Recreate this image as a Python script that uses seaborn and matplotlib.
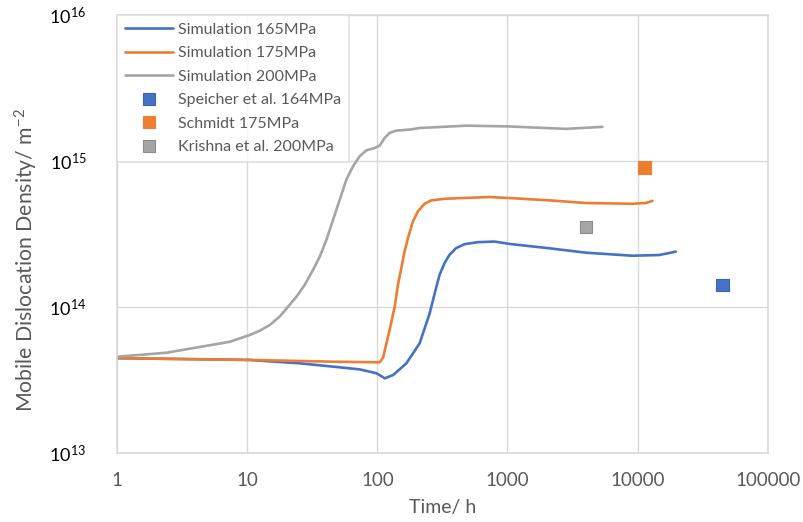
import numpy as np
import pandas as pd
import matplotlib
matplotlib.use("Agg")
import matplotlib.pyplot as plt
import seaborn as sns
from matplotlib.ticker import FixedLocator, FixedFormatter, NullLocator

# ---------------- data ----------------
t_200 = [1, 2.404, 4.335, 7.362, 8.790, 10.50, 12.50, 14.93, 17.82, 20.61, 23.93, 27.67, 32.06, 36.14,
         40.64, 45.71, 51.40, 57.81, 65.01, 73.11, 82.41, 95.50, 104.2, 113.8, 124.2, 140.0, 177.0,
         210.9, 482.0, 1005, 2812, 5370]
rho_200 = [4.54e13, 4.84e13, 5.30e13, 5.75e13, 6.07e13, 6.40e13, 6.85e13, 7.50e13, 8.57e13, 1.000e14,
           1.172e14, 1.409e14, 1.786e14, 2.203e14, 2.871e14, 3.936e14, 5.395e14, 7.413e14, 9.141e14,
           1.072e15, 1.178e15, 1.222e15, 1.268e15, 1.432e15, 1.549e15, 1.607e15, 1.633e15,
           1.675e15, 1.738e15, 1.718e15, 1.652e15, 1.706e15]

t_175 = [1, 3.162, 10.23, 45.08, 104.2, 110.7, 124.5, 136.1, 143.9, 152.8, 161.8, 171.8, 187.5, 204.6,
         230.7, 259.4, 328.1, 440.6, 726.1, 1035, 2099, 4009, 9120, 11560, 13000]
rho_175 = [4.44e13, 4.38e13, 4.32e13, 4.20e13, 4.16e13, 4.48e13, 6.97e13, 1.002e14, 1.409e14, 1.837e14,
           2.382e14, 2.944e14, 3.828e14, 4.487e14, 5.070e14, 5.346e14, 5.483e14, 5.546e14, 5.64e14,
           5.55e14, 5.35e14, 5.13e14, 5.07e14, 5.13e14, 5.31e14]

t_165 = [1, 3.162, 10.23, 25.70, 61.66, 73.28, 98.4, 104.7, 114.0, 132.1, 167.1, 211.3, 252.3, 283.1,
         300.6, 328.1, 358.1, 402.7, 466.7, 590.2, 794.3, 1035, 2099, 4009, 9120, 14620, 19630]
rho_165 = [4.44e13, 4.38e13, 4.32e13, 4.09e13, 3.78e13, 3.72e13, 3.50e13, 3.39e13, 3.23e13, 3.40e13,
           4.09e13, 5.61e13, 8.99e13, 1.349e14, 1.652e14, 1.986e14, 2.265e14, 2.518e14, 2.679e14,
           2.767e14, 2.793e14, 2.692e14, 2.512e14, 2.344e14, 2.234e14, 2.259e14, 2.382e14]

sim_labels = ["Simulation 165MPa", "Simulation 175MPa", "Simulation 200MPa"]
exp_labels = ["Speicher et al. 164MPa", "Schmidt 175MPa", "Krishna et al. 200MPa"]
exp_time = [44800, 11300, 4030]
exp_rho = [1.41e14, 9.0e14, 3.5e14]

x_ticks = [1, 10, 100, 1000, 10000, 100000]
x_ticklabels = ["1", "10", "100", "1000", "10000", "100000"]
y_ticks = [1e13, 1e14, 1e15, 1e16]
y_ticklabels = [r"$10^{13}$", r"$10^{14}$", r"$10^{15}$", r"$10^{16}$"]

colors = ["#4472C4", "#ED7D31", "#A5A5A5"]
edge_colors = ["#3a64b0", "#ED7D31", "#8c8c8c"]

# ---------------- frames ----------------
sim_df = pd.concat([
    pd.DataFrame({"time": t_165, "rho": rho_165, "series": sim_labels[0]}),
    pd.DataFrame({"time": t_175, "rho": rho_175, "series": sim_labels[1]}),
    pd.DataFrame({"time": t_200, "rho": rho_200, "series": sim_labels[2]}),
], ignore_index=True)
exp_df = pd.DataFrame({"time": exp_time, "rho": exp_rho, "source": exp_labels})

# ---------------- plot ----------------
sns.set_theme(style="white")
plt.rcParams["font.family"] = ["Lato", "DejaVu Sans"]
plt.rcParams["mathtext.fontset"] = "custom"
plt.rcParams["mathtext.rm"] = "Lato"
plt.rcParams["mathtext.it"] = "Lato:italic"
plt.rcParams["mathtext.bf"] = "Lato:bold"

fig = plt.figure(figsize=(8.04, 5.22), dpi=100)
ax = fig.add_axes([0.1455, 0.1328, 0.8095, 0.839])

sns.lineplot(data=sim_df, x="time", y="rho", hue="series", hue_order=sim_labels,
             palette=colors, sort=False, estimator=None, linewidth=1.9, ax=ax,
             solid_joinstyle="round", solid_capstyle="round")
sns.scatterplot(data=exp_df, x="time", y="rho", hue="source", hue_order=exp_labels,
                palette=colors, marker="s", s=80, linewidth=0.8, ax=ax, zorder=5)
ax.collections[-1].set_edgecolors(edge_colors)

ax.set_xscale("log")
ax.set_yscale("log")
ax.set_xlim(1, 100000)
ax.set_ylim(1e13, 1e16)

ax.xaxis.set_major_locator(FixedLocator(x_ticks))
ax.xaxis.set_major_formatter(FixedFormatter(x_ticklabels))
ax.xaxis.set_minor_locator(NullLocator())
ax.yaxis.set_major_locator(FixedLocator(y_ticks))
ax.yaxis.set_major_formatter(FixedFormatter(y_ticklabels))
ax.yaxis.set_minor_locator(NullLocator())

ax.tick_params(axis="x", length=0, pad=14, labelsize=13.5, labelcolor="#595959")
ax.tick_params(axis="y", length=0, pad=22, labelsize=13, labelcolor="#000000")

ax.grid(True, which="major", color="#d9d9d9", linewidth=1.0)
for sp in ax.spines.values():
    sp.set_color("#d9d9d9")
    sp.set_linewidth(1.2)

ax.set_xlabel("Time/ h", fontsize=14, color="#595959")
ax.set_ylabel("Mobile Dislocation Density/ m$^{-2}$", fontsize=15.3, color="#595959")
ax.xaxis.set_label_coords(0.5, -0.105)
ax.yaxis.set_label_coords(-0.118, 0.44)

handles, labels = ax.get_legend_handles_labels()
for h, lab in zip(handles, labels):
    if lab in exp_labels:
        i = exp_labels.index(lab)
        h.set_markeredgecolor(edge_colors[i])
        h.set_markerfacecolor(colors[i])
leg = ax.legend(handles, labels, loc="upper left", bbox_to_anchor=(0.0, 1.0),
                borderaxespad=0.0, fontsize=11.5, frameon=True, fancybox=False,
                handlelength=3.0, handletextpad=0.3, labelspacing=0.58,
                borderpad=0.5, labelcolor="#595959")
leg.get_frame().set_edgecolor("#d9d9d9")
leg.get_frame().set_linewidth(1.2)

fig.savefig("out.png", dpi=100)
